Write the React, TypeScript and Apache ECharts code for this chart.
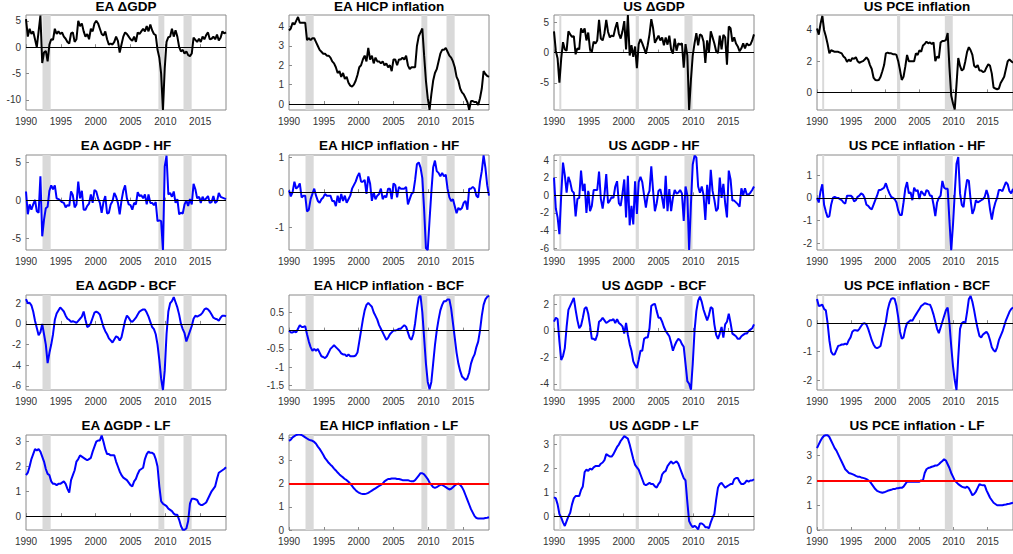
import React, { useEffect, useRef } from "react";
import * as echarts from "echarts";

// In the reference they are spread evenly from the 1990 tick to the right edge of each panel.
const START_YEAR = 1990;
const END_YEAR = 2018.7;
const xTickYears = [1990, 1995, 2000, 2005, 2010, 2015];

const eaRecessions = [[1992.37, 1993.54], [2009.0, 2009.85], [2012.6, 2013.77]];
const usRecessions = [[1990.76, 1991.05], [2001.72, 2002.18], [2008.72, 2009.88]];

const eaGdp = [
  5.3, 2.0, 3.5, 2.5, 3.0, 1.5, 0.0, 3.0, 6.0, -3.0, -1.0, -0.7, -2.7, 0.5, 1.5, 1.4,
  3.5, 2.5, 3.0, 2.5, 2.8, 2.0, 1.6, 1.0, 0.7, 2.6, 2.8, 1.0, 1.5, 5.0, 4.0, 4.5,
  3.0, 2.0, 2.5, 1.5, 3.5, 3.0, 4.5, 5.0, 4.5, 3.5, 2.5, 2.2, 3.0, 1.5, 0.5, 0.7,
  0.5, 1.0, 2.0, 1.2, -1.0, 0.5, 2.0, 2.8, 2.5, 2.0, 1.5, 1.2, 2.0, 1.0, 2.8, 2.5,
  3.0, 3.5, 3.0, 4.0, 3.0, 4.3, 3.2, 2.5, 2.3, -0.5, -2.0, -5.0, -11.9, -4.0, 1.0, 1.9,
  2.0, 3.5, 2.0, 3.2, 2.0, 0.0, -0.8, -0.5, -1.2, -0.8, -1.5, -1.7, -1.2, 1.8, 1.4, 1.0,
  1.6, 1.0, 2.0, 1.5, 2.3, 2.8, 1.5, 1.6, 2.0, 1.5, 2.4, 1.3, 1.8, 3.0, 2.6, 2.8,
];
const eaHicp = [
  3.8, 3.9, 4.2, 4.1, 4.3, 4.5, 4.2, 4.2, 4.2, 4.2, 3.3, 3.4, 3.3, 3.4, 3.4, 3.2,
  3.0, 2.8, 2.7, 2.6, 2.6, 2.5, 2.5, 2.4, 2.2, 2.1, 1.9, 1.6, 1.7, 1.4, 1.6, 1.3,
  1.4, 1.1, 0.95, 0.9, 1.0, 1.2, 1.5, 1.9, 2.0, 2.3, 2.5, 2.2, 2.9, 2.3, 2.5, 2.1,
  2.4, 2.2, 2.2, 2.1, 2.2, 2.0, 2.1, 1.9, 2.0, 1.7, 2.3, 2.3, 2.0, 2.3, 2.3, 2.4,
  2.3, 2.5, 2.0, 1.8, 1.9, 1.9, 1.9, 3.0, 3.5, 3.7, 3.9, 2.5, 1.2, 0.3, -0.3, 0.5,
  1.2, 1.6, 1.8, 2.2, 2.6, 2.8, 2.8, 2.9, 2.7, 2.5, 2.4, 2.2, 1.9, 1.4, 1.2, 0.8,
  0.6, 0.5, 0.3, 0.1, -0.3, 0.15, 0.15, 0.1, 0.1, -0.05, 0.3, 0.8, 1.7, 1.55, 1.45, 1.4,
];
const usGdp = [
  3.5, 0.3, -1.0, -5.0, -1.0, 1.7, 0.5, 0.3, 3.5, 3.0, 2.6, 2.7, -0.3, 0.7, 0.5, 4.0,
  3.3, 4.0, 2.0, 3.3, 0.5, 0.1, 1.8, 1.5, 2.0, 5.4, 2.3, 2.0, 3.2, 5.4, 3.4, 2.5,
  2.8, 2.7, 4.0, 5.0, 3.1, 2.3, 3.5, 5.2, 0.5, 6.2, -0.5, 1.2, -0.7, 1.0, -2.6, 1.4,
  2.2, 1.5, 0.7, -0.2, 1.2, 3.0, 5.5, 4.0, 1.6, 2.2, 2.8, 2.0, 2.5, 1.2, 2.5, 1.3,
  2.8, 0.5, -0.2, 2.3, 0.3, 1.5, 1.3, 1.5, -2.5, 1.4, -0.5, -9.5, -4.5, -0.5, 1.5, 3.2,
  1.2, 3.0, 2.8, 1.8, -1.7, 2.0, 0.0, 3.5, 2.5, 1.5, 0.2, -0.1, 2.8, 0.5, 2.9, 2.5,
  -2.0, 4.3, 4.0, 1.8, 2.5, 1.5, 1.0, 0.2, 0.7, 1.5, 0.7, 1.5, 1.2, 1.3, 2.0, 3.0,
];
const usPce = [
  4.1, 3.7, 4.4, 4.9, 4.0, 3.6, 3.1, 2.5, 2.7, 2.65, 2.6, 2.6, 2.6, 2.55, 2.5, 2.3,
  2.2, 1.95, 2.1, 2.0, 2.2, 2.15, 2.25, 2.0, 1.9, 1.95, 2.0, 2.1, 2.25, 2.1, 1.75, 1.5,
  0.95, 0.8, 0.78, 0.8, 1.0, 1.35, 1.75, 2.5, 2.55, 2.5, 2.5, 2.45, 2.45, 2.4, 2.0, 1.43,
  0.8, 1.0, 1.65, 2.4, 2.0, 2.0, 2.0, 2.0, 2.5, 2.4, 2.7, 2.6, 3.0, 3.1, 3.25, 3.15,
  3.2, 3.1, 3.2, 2.0, 2.3, 2.2, 3.2, 3.3, 3.3, 3.35, 3.8, 1.6, -0.2, -0.7, -1.1, 0.5,
  2.2, 1.7, 1.4, 1.5, 2.0, 2.6, 2.9, 2.7, 2.4, 1.7, 1.6, 1.75, 1.4, 1.4, 1.3, 1.35,
  1.6, 1.8, 1.7, 1.2, 0.3, 0.25, 0.2, 0.25, 0.6, 0.8, 1.0, 1.5, 2.0, 2.1, 2.0, 1.9,
];

const eaGdpHf = [
  1.2, -1.8, -0.5, -1.2, -0.5, 0.1, -1.4, -1.6, 3.2, -4.7, -2.5, -1.0, -0.8, 1.3, 2.0, 1.5,
  2.0, 0.3, 0.2, 0.0, -0.2, -0.3, -0.9, -0.6, -0.7, 1.2, 0.7, -0.9, -0.5, 2.5, 0.3, 1.3,
  -1.2, -1.2, -0.7, -0.4, 0.8, -0.3, 1.4, 1.2, 0.3, -0.3, -1.6, -0.2, 0.6, -1.7, -1.6, -0.5,
  -0.1, 1.0, 0.5, -0.3, -1.8, 0.0, 1.3, 2.0, 0.3, -0.5, -0.6, -1.2, -0.3, -0.5, 1.1, 0.6,
  0.7, 0.3, 0.8, -0.5, 0.8, -0.3, -0.3, -0.6, -0.2, -2.7, -2.6, -2.7, -6.5, 4.5, 5.9, 0.8,
  1.0, 0.5, 1.2, -0.3, 0.2, -1.8, -1.6, -1.7, -0.5, 0.0, -0.7, 0.2, -0.5, 2.2, 1.5, 0.3,
  0.5, -0.3, 0.5, 0.0, 0.3, 0.6, -0.3, -0.2, 0.6, -0.3, -0.1, 1.0, 0.5, 0.4, 0.3, 0.2,
];
const eaHicpHf = [
  0.05, -0.12, 0.0, 0.3, 0.1, 0.15, 0.25, -0.15, -0.1, -0.1, -0.55, -0.5, -0.2, -0.05, 0.1, -0.1,
  -0.25, -0.3, -0.2, -0.15, -0.05, -0.1, -0.1, -0.1, -0.25, -0.25, -0.4, -0.1, -0.3, -0.05, -0.25, -0.1,
  -0.3, -0.2, -0.1, 0.1, 0.2, 0.3, 0.45, 0.55, 0.3, 0.3, 0.35, -0.05, 0.45, 0.25, -0.25, 0.0,
  -0.2, -0.1, -0.05, 0.1, -0.2, -0.1, -0.15, 0.1, 0.1, -0.2, 0.25, 0.2, -0.15, 0.15, 0.1, 0.1,
  0.1, 0.15, -0.35, -0.2, -0.05, 0.0, 0.35, 0.8, 0.85, 0.7, 0.4, -0.5, -1.6, -1.65, -0.8, 0.0,
  0.7, 0.9, 0.6, 0.55, 0.45, 0.55, 0.45, 0.5, 0.1, -0.15, -0.25, -0.2, -0.4, -0.6, -0.45, -0.5,
  -0.45, -0.3, -0.25, -0.5, 0.1, 0.1, 0.15, 0.1, -0.1, -0.15, 0.3, 0.6, 1.05, 0.7, 0.2, -0.1,
];
const usGdpHf = [
  2.0, -1.5, -2.5, -4.4, 0.0, 3.7, 2.3, 0.3, 2.1, 1.5, 0.5, 0.3, -2.4, -0.4, -0.3, 2.8,
  0.5, 1.3, -2.0, 0.5, -1.8, -1.2, 0.6, 0.6, 0.6, 2.7, -0.4, -1.5, 0.0, 2.4, -0.9, -0.6,
  -0.2, -0.3, 1.0, 1.6, -0.9, -1.2, 0.2, 1.8, -2.5, 2.2, -3.4, -1.2, -3.3, 1.6, -2.1, 1.5,
  2.1, 1.5, 0.0, -1.4, 0.0, 0.5, 3.3, 0.5, -1.8, -0.9, 0.5, 0.7, -0.3, -1.5, 2.2, -1.8,
  0.7, -1.8, -0.3, 0.6, 0.2, 0.3, 0.6, 0.2, -2.9, 1.0, 0.0, -6.2, -1.0, 3.5, 4.5, 4.3,
  1.0, 0.3, 1.0, 0.0, -2.8, 1.2, -1.0, 2.9, 0.5, -0.5, -1.8, -1.5, 2.0, -0.3, 1.3, -0.9,
  -2.5, 2.8, 1.8, -0.6, -0.6, -0.8, -1.0, -1.3, 0.8, 0.0, 0.8, 0.1, 0.1, 0.3, 0.6, 1.0,
];
const usPceHf = [
  0.0, -0.2, 0.3, 0.6, -0.3, -0.6, -0.85, -0.8, -0.3, 0.0, 0.05, 0.0, 0.0, -0.05, -0.1, -0.2,
  -0.25, 0.1, 0.1, 0.1, 0.05, -0.15, -0.1, 0.05, 0.1, 0.2, 0.15, 0.0, -0.3, -0.35, -0.45, -0.5,
  -0.3, -0.1, 0.1, 0.35, 0.35, 0.4, 0.45, 0.65, 0.4, 0.2, 0.05, 0.0, -0.05, -0.2, -0.55, -0.75,
  -0.75, -0.2, 0.4, 0.7, 0.2, 0.25, -0.1, 0.45, 0.3, 0.35, -0.05, 0.3, 0.2, 0.1, 0.35, 0.3,
  0.1, 0.1, -0.3, -0.8, -0.2, 0.0, 0.1, 0.75, 0.45, 0.4, 0.4, -1.0, -2.3, -1.2, 0.2, 1.5,
  1.8, 0.2, -0.3, -0.4, 0.3, 0.8, 0.75, -0.1, -0.7, -0.5, -0.1, -0.2, -0.15, -0.1, -0.05, 0.05,
  0.35, 0.1, -0.5, -0.95, -0.5, -0.2, 0.0, 0.35, 0.35, 0.3, 0.5, 0.7, 0.6, 0.3, 0.2, 0.4,
];

const eaGdpBcf = [
  2.4, 2.0, 2.05, 1.8, 1.2, 0.3, -0.4, -1.1, -0.8, 0.0, -1.0, -2.0, -3.8, -2.8, -2.0, -1.0,
  0.4, 1.0, 1.3, 1.6, 1.4, 1.2, 0.8, 0.5, 0.4, 0.2, 0.25, 0.2, 0.1, 0.3, 0.5, 0.7,
  1.2, 0.4, -0.3, -0.2, 0.1, 0.6, 1.1, 1.2, 1.1, 0.9, 0.3, -0.3, -0.7, -1.0, -1.4, -1.6,
  -1.8, -1.5, -1.2, -1.3, -1.6, -1.3, -0.5, 0.3, 0.8, 0.6, 0.3, 0.2, 0.4, 0.6, 0.9, 1.2,
  1.3, 1.4, 1.4, 1.1, 0.7, 0.2, -0.3, -0.5, -1.0, -2.0, -3.5, -5.3, -6.4, -4.5, -1.0, 1.2,
  2.0, 2.2, 2.6, 2.1, 1.6, 0.9, 0.0, -0.5, -0.9, -1.7, -1.2, -0.7, -0.2, 0.5, 0.8, 0.7,
  0.8, 0.9, 1.1, 1.4, 1.5, 1.4, 1.2, 0.9, 0.6, 0.5, 0.45, 0.3, 0.6, 0.8, 0.8, 0.75,
];
const eaHicpBcf = [
  0.0, -0.05, -0.05, -0.02, -0.05, 0.05, 0.15, 0.1, 0.1, 0.12, -0.1, -0.3, -0.45, -0.55, -0.5, -0.55,
  -0.5, -0.6, -0.7, -0.72, -0.75, -0.7, -0.6, -0.5, -0.45, -0.4, -0.45, -0.5, -0.55, -0.62, -0.65, -0.65,
  -0.7, -0.65, -0.7, -0.7, -0.7, -0.68, -0.6, -0.3, 0.0, 0.3, 0.55, 0.7, 0.75, 0.7, 0.65, 0.5,
  0.4, 0.3, 0.15, 0.05, -0.05, -0.15, -0.25, -0.2, -0.1, -0.05, 0.0, 0.0, 0.02, 0.05, 0.05, 0.1,
  0.15, 0.1, -0.05, -0.2, -0.25, -0.1, 0.2, 0.6, 0.9, 0.95, 0.5, -0.2, -0.9, -1.4, -1.6, -1.4,
  -0.9, -0.4, 0.0, 0.3, 0.55, 0.7, 0.8, 0.8, 0.85, 0.85, 0.6, 0.2, -0.2, -0.6, -0.9, -1.1,
  -1.25, -1.3, -1.35, -1.3, -1.15, -0.9, -0.75, -0.65, -0.45, -0.3, 0.0, 0.4, 0.7, 0.85, 0.92, 0.95,
];
const usGdpBcf = [
  0.7, 1.0, 0.9, -0.8, -2.2, -1.9, -1.3, 0.3, 1.6, 1.9, 2.2, 2.5, 1.6, 0.8, 0.2, 0.4,
  1.0, 1.7, 1.8, 1.3, 0.4, -0.6, -0.6, -0.7, -0.3, 0.7, 0.8, 1.0, 0.8, 0.6, 0.7, 0.8,
  0.8, 0.9, 0.6, 0.9, 0.6, 0.5, 0.35, -0.2, 0.6, -0.3, -1.0, -1.5, -2.3, -2.6, -2.8, -2.2,
  -1.5, -1.5, -0.6, -0.5, -0.5, 0.2, 1.9, 2.0, 2.05, 1.5, 1.0, 1.0, 0.7, 0.3, 0.0, -0.2,
  -0.4, -0.9, -1.5, -1.1, -0.8, -0.6, -0.7, -1.0, -1.2, -2.5, -3.8, -4.0, -4.45, -2.5, 0.0, 1.5,
  2.3, 2.6, 2.2, 1.6, 1.2, 0.8, 1.2, 1.8, 1.7, 0.5, -0.3, -0.6, -0.2, 0.3, -0.5, 0.5,
  0.7, 1.3, 0.6, -0.2, -0.3, -0.4, -0.6, -0.6, -0.4, -0.3, -0.2, -0.2, 0.0, 0.1, 0.2, 0.5,
];
const usPceBcf = [
  0.85, 0.6, 0.62, 0.65, 0.5, 0.45, 0.0, -0.6, -1.0, -1.1, -1.1, -0.95, -0.8, -0.78, -0.75, -0.75,
  -0.72, -0.75, -0.6, -0.5, -0.3, -0.25, -0.25, -0.27, -0.2, -0.1, -0.02, 0.0, -0.05, -0.2, -0.4, -0.6,
  -0.75, -0.85, -0.88, -0.85, -0.8, -0.5, -0.2, 0.05, 0.45, 0.7, 0.85, 0.88, 0.85, 0.6, 0.2, -0.3,
  -0.55, -0.5, -0.2, 0.0, 0.05, 0.1, 0.08, 0.2, 0.3, 0.4, 0.5, 0.6, 0.65, 0.7, 0.68, 0.66,
  0.65, 0.5, 0.3, 0.05, -0.2, -0.35, -0.15, 0.05, 0.25, 0.45, 0.55, 0.0, -0.8, -1.5, -2.0, -2.35,
  -1.2, -0.2, 0.0, 0.05, 0.0, 0.4, 0.85, 0.95, 0.75, 0.45, 0.1, -0.2, -0.45, -0.5, -0.4, -0.35,
  -0.3, -0.4, -0.6, -0.85, -0.95, -1.0, -0.85, -0.6, -0.45, -0.3, -0.1, 0.1, 0.25, 0.4, 0.5, 0.55,
];

const eaGdpLf = [
  1.65, 1.75, 2.0, 2.3, 2.5, 2.7, 2.65, 2.7, 2.6, 2.4, 2.2, 1.9, 1.7, 1.65, 1.4, 1.3,
  1.3, 1.25, 1.3, 1.3, 1.35, 1.4, 1.3, 1.1, 0.95, 1.45, 1.65, 1.85, 2.2, 2.3, 2.45, 2.4,
  2.35, 2.3, 2.25, 2.3, 2.35, 2.6, 2.8, 3.0, 3.05, 3.05, 3.25, 3.0, 2.7, 2.5, 2.5, 2.45,
  2.45, 2.45, 2.2, 2.0, 1.8, 1.65, 1.55, 1.5, 1.45, 1.35, 1.25, 1.2, 1.4, 1.5, 1.7, 1.85,
  1.9, 1.95, 2.3, 2.5, 2.6, 2.55, 2.55, 2.5, 2.3, 2.0, 1.2, 0.6, 0.5, 0.45, 0.4, 0.3,
  0.25, 0.2, 0.1, 0.05, 0.05, -0.15, -0.4, -0.55, -0.55, -0.5, -0.2, 0.5, 0.7, 0.7, 0.68, 0.65,
  0.5, 0.45, 0.45, 0.5, 0.55, 0.7, 0.85, 1.0, 1.1, 1.2, 1.5, 1.75, 1.8, 1.85, 1.9, 1.97,
];
const eaHicpLf = [
  3.85, 3.9, 4.0, 4.05, 4.1, 4.12, 4.12, 4.1, 4.05, 4.0, 3.95, 3.9, 3.87, 3.85, 3.8, 3.72,
  3.6, 3.5, 3.38, 3.25, 3.1, 3.0, 2.9, 2.82, 2.75, 2.65, 2.57, 2.48, 2.4, 2.33, 2.27, 2.2,
  2.15, 2.08, 2.0, 1.9, 1.8, 1.72, 1.65, 1.6, 1.57, 1.55, 1.55, 1.57, 1.6, 1.65, 1.7, 1.75,
  1.8, 1.85, 1.9, 1.95, 2.0, 2.1, 2.15, 2.2, 2.2, 2.22, 2.22, 2.22, 2.2, 2.2, 2.18, 2.15,
  2.15, 2.15, 2.15, 2.12, 2.1, 2.1, 2.15, 2.25, 2.35, 2.45, 2.45, 2.4, 2.3, 2.2, 2.05, 1.95,
  1.85, 1.82, 1.85, 1.9, 1.95, 1.95, 1.9, 1.85, 1.8, 1.75, 1.78, 1.85, 1.92, 1.98, 2.0, 1.95,
  1.85, 1.7, 1.5, 1.3, 1.1, 0.9, 0.75, 0.6, 0.52, 0.5, 0.5, 0.5, 0.5, 0.52, 0.53, 0.55,
];
const usGdpLf = [
  0.8, 0.75, 0.5, 0.1, -0.05, -0.25, -0.4, -0.2, 0.0, 0.15, 0.5, 0.75, 0.85, 0.85, 0.85, 1.1,
  1.25, 1.85, 1.95, 1.9, 2.0, 1.95, 2.05, 2.1, 2.1, 2.1, 2.2, 2.25, 2.35, 2.6, 2.55, 2.5,
  2.5, 2.6, 2.75, 2.9, 3.0, 3.15, 3.25, 3.35, 3.3, 3.25, 3.0, 2.7, 2.4, 2.15, 2.05, 1.95,
  1.75, 1.55, 1.35, 1.3, 1.35, 1.4, 1.35, 1.35, 1.25, 1.2, 1.35, 1.45, 1.75, 1.85, 1.9, 2.1,
  2.2, 2.3, 2.2, 2.25, 2.3, 2.2, 2.0, 1.8, 1.6, 1.5, 0.6, -0.2, -0.35, -0.45, -0.4, -0.45,
  -0.55, -0.3, -0.3, -0.35, -0.45, -0.45, -0.5, -0.25, -0.05, 0.1, 0.7, 1.2, 1.35, 1.4, 1.3, 1.2,
  1.25, 1.3, 1.35, 1.35, 1.55, 1.6, 1.6, 1.45, 1.35, 1.35, 1.4, 1.5, 1.45, 1.5, 1.5, 1.55,
];
const usPceLf = [
  3.3, 3.45, 3.6, 3.72, 3.8, 3.82, 3.82, 3.75, 3.6, 3.45, 3.3, 3.2, 3.05, 2.9, 2.75, 2.6,
  2.45, 2.38, 2.3, 2.28, 2.25, 2.22, 2.18, 2.15, 2.15, 2.12, 2.1, 2.08, 2.05, 2.0, 1.95, 1.85,
  1.75, 1.65, 1.58, 1.55, 1.52, 1.5, 1.52, 1.55, 1.58, 1.6, 1.62, 1.65, 1.65, 1.68, 1.68, 1.7,
  1.7, 1.75, 1.85, 1.95, 1.95, 1.95, 1.95, 1.95, 1.95, 1.95, 1.95, 2.0, 2.0, 2.3, 2.45, 2.5,
  2.52, 2.55, 2.57, 2.6, 2.6, 2.65, 2.72, 2.78, 2.85, 2.8, 2.65, 2.5, 2.3, 2.15, 2.0, 1.92,
  1.85, 1.8, 1.75, 1.72, 1.7, 1.75, 1.68, 1.55, 1.4, 1.45, 1.55, 1.7, 1.85, 1.82, 1.8, 1.8,
  1.6, 1.45, 1.3, 1.2, 1.1, 1.05, 1.0, 1.0, 1.0, 1.0, 1.02, 1.03, 1.05, 1.06, 1.08, 1.1,
];

const BLACK = "#000000";
const BLUE = "#0000ff";
const RED = "#ff0000";
const FONT = '"Liberation Sans", Arial, Helvetica, sans-serif';

type Panel = {
  title: string;
  values: number[];
  color: string;
  min: number;
  max: number;
  ticks: number[];
  rec: number[][];
  refY: number;
  refColor: string;
  refWidth: number;
};

const zeroRef = { refY: 0, refColor: BLACK, refWidth: 1 };
const targetRef = { refY: 2, refColor: RED, refWidth: 2 };

const panels: Panel[] = [
  { title: "EA ΔGDP", values: eaGdp, color: BLACK, min: -11.9, max: 6.1, ticks: [-10, -5, 0, 5], rec: eaRecessions, ...zeroRef },
  { title: "EA HICP inflation", values: eaHicp, color: BLACK, min: -0.31, max: 4.6, ticks: [0, 1, 2, 3, 4], rec: eaRecessions, ...zeroRef },
  { title: "US ΔGDP", values: usGdp, color: BLACK, min: -9.5, max: 6.2, ticks: [-5, 0, 5], rec: usRecessions, ...zeroRef },
  { title: "US PCE inflation", values: usPce, color: BLACK, min: -1.13, max: 4.96, ticks: [0, 2, 4], rec: usRecessions, ...zeroRef },

  { title: "EA ΔGDP - HF", values: eaGdpHf, color: BLUE, min: -6.5, max: 6.0, ticks: [-5, 0, 5], rec: eaRecessions, ...zeroRef },
  { title: "EA HICP inflation - HF", values: eaHicpHf, color: BLUE, min: -1.65, max: 1.06, ticks: [-1, 0, 1], rec: eaRecessions, ...zeroRef },
  { title: "US ΔGDP - HF", values: usGdpHf, color: BLUE, min: -6.2, max: 4.57, ticks: [-6, -4, -2, 0, 2, 4], rec: usRecessions, ...zeroRef },
  { title: "US PCE inflation - HF", values: usPceHf, color: BLUE, min: -2.29, max: 1.89, ticks: [-2, -1, 0, 1], rec: usRecessions, ...zeroRef },

  { title: "EA ΔGDP - BCF", values: eaGdpBcf, color: BLUE, min: -6.4, max: 2.8, ticks: [-6, -4, -2, 0, 2], rec: eaRecessions, ...zeroRef },
  { title: "EA HICP inflation - BCF", values: eaHicpBcf, color: BLUE, min: -1.62, max: 0.97, ticks: [-1.5, -1, -0.5, 0, 0.5], rec: eaRecessions, ...zeroRef },
  { title: "US ΔGDP  - BCF", values: usGdpBcf, color: BLUE, min: -4.47, max: 2.72, ticks: [-4, -2, 0, 2], rec: usRecessions, ...zeroRef },
  { title: "US PCE inflation - BCF", values: usPceBcf, color: BLUE, min: -2.35, max: 0.99, ticks: [-2, -1, 0], rec: usRecessions, ...zeroRef },

  { title: "EA ΔGDP - LF", values: eaGdpLf, color: BLUE, min: -0.56, max: 3.27, ticks: [0, 1, 2, 3], rec: eaRecessions, ...zeroRef },
  { title: "EA HICP inflation - LF", values: eaHicpLf, color: BLUE, min: 0, max: 4.1, ticks: [0, 1, 2, 3, 4], rec: eaRecessions, ...targetRef },
  { title: "US ΔGDP - LF", values: usGdpLf, color: BLUE, min: -0.57, max: 3.4, ticks: [0, 1, 2, 3], rec: usRecessions, ...zeroRef },
  { title: "US PCE inflation - LF", values: usPceLf, color: BLUE, min: 0, max: 3.83, ticks: [0, 1, 2, 3], rec: usRecessions, ...targetRef },
];

const COL_LEFT = [26, 289, 554, 817];
const ROW_TOP = [15, 155, 295, 435];
const TITLE_Y = [6, 145, 285, 425];
const PLOT_W = 200;
const PLOT_H = 95;

function toPairs(values: number[]) {
  const step = (END_YEAR - START_YEAR) / (values.length - 1);
  return values.map((v, i) => [START_YEAR + i * step, v]);
}

function buildOption() {
  const grid: any[] = [];
  const xAxis: any[] = [];
  const yAxis: any[] = [];
  const series: any[] = [];
  const graphic: any[] = [];
  const axisColor = "#8a8a8a";
  const labelColor = "#333333";

  panels.forEach((p, i) => {
    const r = Math.floor(i / 4);
    const c = i % 4;
    grid.push({
      left: COL_LEFT[c],
      top: ROW_TOP[r],
      width: PLOT_W,
      height: PLOT_H,
      show: true,
      borderColor: axisColor,
      borderWidth: 1,
      backgroundColor: "transparent",
    });
    xAxis.push({
      gridIndex: i,
      type: "value",
      min: START_YEAR,
      max: END_YEAR,
      axisLine: { show: false },
      splitLine: { show: false },
      axisTick: { show: true, inside: true, length: 3, customValues: xTickYears, lineStyle: { color: axisColor } },
      axisLabel: {
        customValues: xTickYears,
        fontSize: 10,
        color: labelColor,
        margin: 6,
        fontFamily: FONT,
        formatter: (v: number) => String(Math.round(v)),
      },
    });
    yAxis.push({
      gridIndex: i,
      type: "value",
      min: p.min,
      max: p.max,
      axisLine: { show: false },
      splitLine: { show: false },
      axisTick: { show: true, inside: true, length: 3, customValues: p.ticks, lineStyle: { color: axisColor } },
      axisLabel: {
        customValues: p.ticks,
        fontSize: 10,
        color: labelColor,
        margin: 5,
        fontFamily: FONT,
        formatter: (v: number) => String(v),
      },
    });
    series.push({
      type: "line",
      xAxisIndex: i,
      yAxisIndex: i,
      data: [[START_YEAR, p.min]],
      showSymbol: false,
      silent: true,
      lineStyle: { opacity: 0, width: 0 },
      z: 1,
      markArea: {
        silent: true,
        itemStyle: { color: "#d9d9d9", opacity: 1 },
        data: p.rec.map(([a, b]) => [{ xAxis: a }, { xAxis: b }]),
      },
    });
    series.push({
      type: "line",
      xAxisIndex: i,
      yAxisIndex: i,
      data: toPairs(p.values),
      showSymbol: false,
      symbol: "none",
      silent: true,
      lineStyle: { color: p.color, width: 2 },
      z: 3,
      markLine: {
        silent: true,
        symbol: ["none", "none"],
        label: { show: false },
        lineStyle: { color: p.refColor, width: p.refWidth, type: "solid" },
        data: [{ yAxis: p.refY }],
      },
    });
    graphic.push({
      type: "text",
      x: COL_LEFT[c] + PLOT_W / 2,
      y: TITLE_Y[r],
      style: {
        text: p.title,
        fill: "#000",
        fontSize: 13.5,
        fontWeight: "bold",
        fontFamily: FONT,
        align: "center",
        verticalAlign: "middle",
      },
    });
  });

  return {
    animation: false,
    backgroundColor: "#ffffff",
    textStyle: { fontFamily: FONT },
    grid,
    xAxis,
    yAxis,
    series,
    graphic,
  };
}

export default function App() {
  const ref = useRef<HTMLDivElement>(null);
  useEffect(() => {
    if (!ref.current) return;
    const chart = echarts.init(ref.current, undefined, { renderer: "svg" });
    chart.setOption(buildOption() as any);
    return () => chart.dispose();
  }, []);
  return (
    <div
      ref={ref}
      style={{ position: "absolute", left: 0, top: 0, width: 1013, height: 554, background: "#fff" }}
    />
  );
}
